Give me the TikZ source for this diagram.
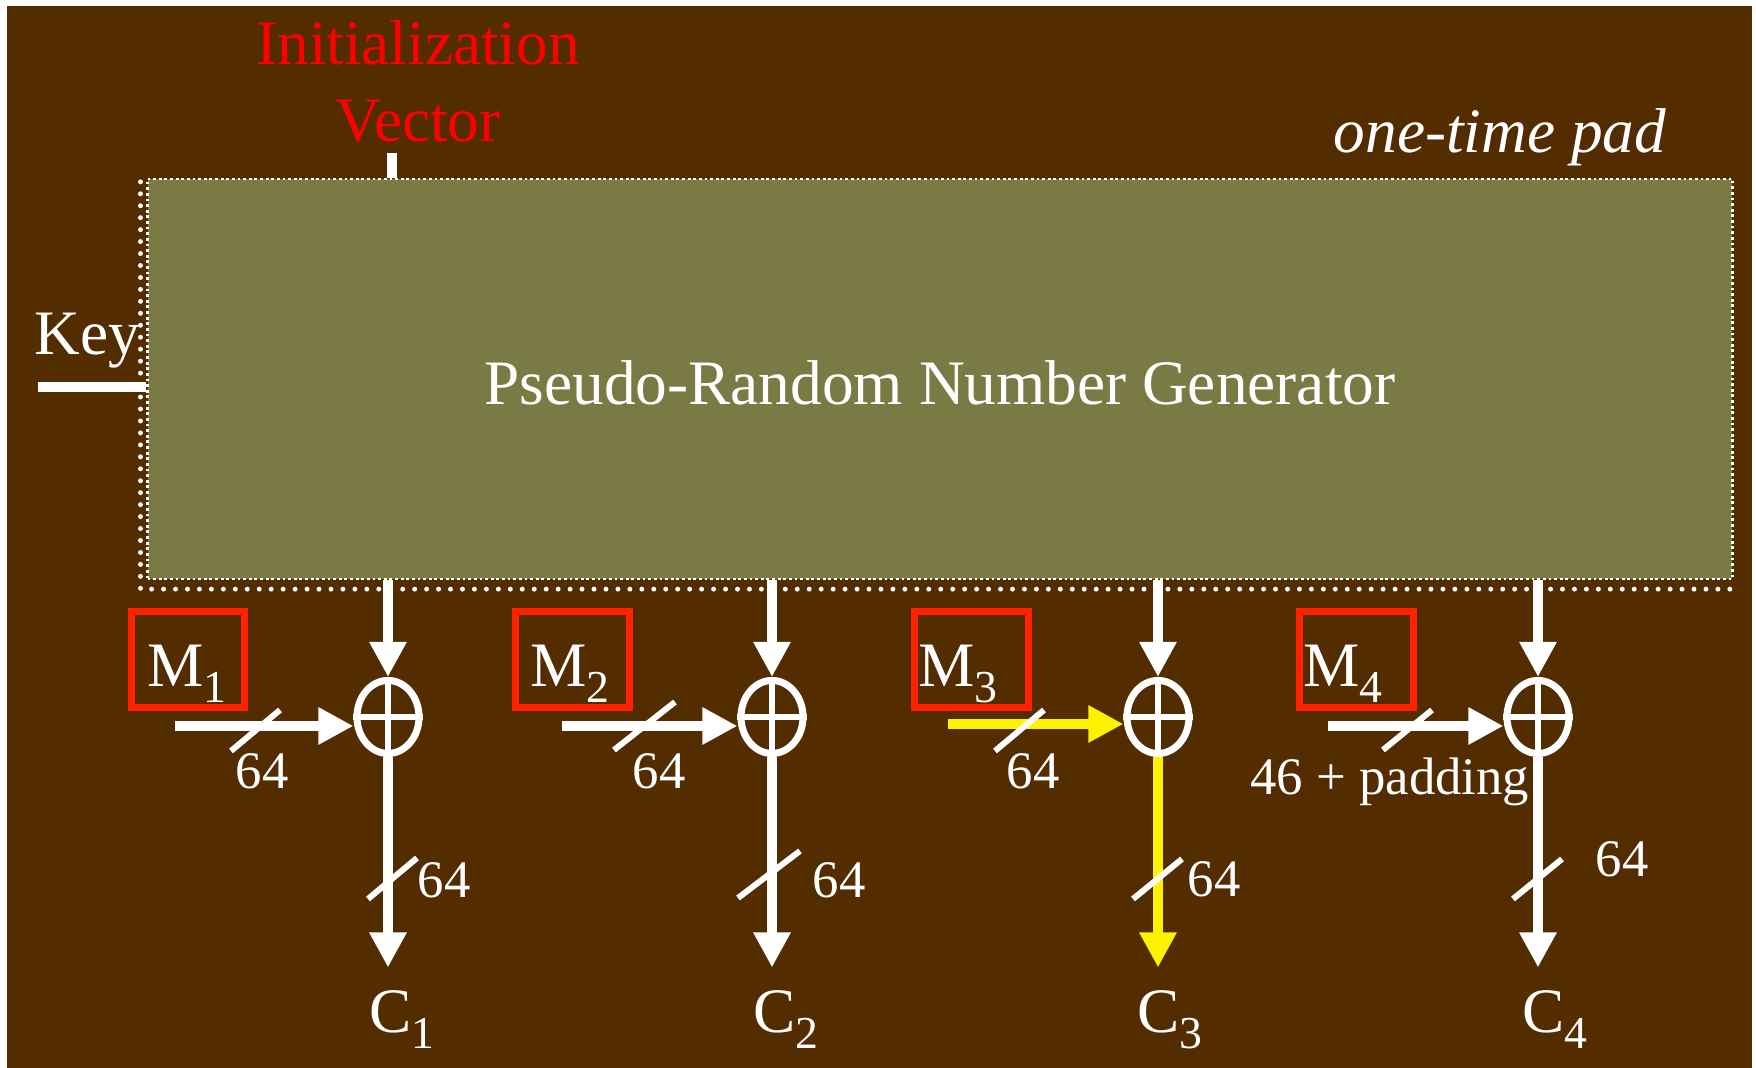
\documentclass[tikz,border=0pt]{standalone}
\usepackage{fontspec}
\setmainfont{Liberation Serif}
\usetikzlibrary{arrows.meta,shapes.geometric}

\definecolor{bgbrown}{HTML}{532C00}
\definecolor{prngolive}{HTML}{7A7A44}
\definecolor{boxred}{HTML}{FF2200}

\newcommand{\idx}[1]{\raisebox{-4.5pt}{\fontsize{13}{13}\selectfont #1}}

\begin{document}
\begin{tikzpicture}[x=0.01cm, y=-0.01cm,
    wline/.style={white, line width=3.1pt},
    warrow/.style={wline, -{Triangle[length=10pt,width=10pt]}},
    yarrow/.style={warrow, yellow},
    xorop/.style={ellipse, draw=white, line width=2pt, inner sep=0pt,
        minimum width=0.62cm, minimum height=0.73cm},
    plusln/.style={white, line width=1.7pt},
    mbox/.style={draw=boxred, line width=2pt, inner sep=0pt,
        minimum width=1.13cm, minimum height=0.96cm},
    lbl/.style={text=white, inner sep=0pt, font=\fontsize{18}{22}\selectfont},
    num/.style={text=white, inner sep=0pt, font=\fontsize{15}{18}\selectfont},
    tick/.style={white, line width=1.7pt}]

    % Background
    \useasboundingbox (0,0) rectangle (1756,1068);
    \fill[white] (0,0) rectangle (1756,1068);
    \fill[bgbrown] (7,6) rectangle (1752,1068);

    % Generator box
    \node[fill=prngolive, draw=white, line width=0.6pt,
        dash pattern=on 0.8pt off 0.8pt,
        minimum width=15.84cm, minimum height=4cm,
        text height=0.52cm, text depth=0pt,
        lbl] (prng) at (940,379) {Pseudo-Random Number Generator};
    \draw[white, line width=1.4pt, line cap=round, dash pattern=on 0pt off 3.4pt]
        ([shift={(-6,4)}]prng.north west) |- ([shift={(-1,9)}]prng.south east);

    % Inputs of the generator
    \node[lbl, anchor=base west] (key) at (34,355) {Key};
    \coordinate (keyin) at (38,387);
    \draw[wline] (keyin) -- (keyin -| prng.west);

    \node[lbl, text=red, align=center, anchor=base] (iv) at (418,142)
        {Initialization\\Vector};
    \coordinate (ivin) at (392,153);
    \draw[wline] (ivin) -- (ivin |- prng.north);

    \node[lbl, font=\fontsize{18}{22}\itshape, anchor=base] (otp) at (1500,153)
        {one-time pad};

    % Message blocks
    \node[mbox] (m1box) at (188,659.5) {};
    \node[mbox] (m2box) at (572.5,659.5) {};
    \node[mbox] (m3box) at (971.5,659.5) {};
    \node[mbox] (m4box) at (1356.5,659.5) {};

    \node[lbl, anchor=base west] (m1) at (147,687) {M\idx{1}};
    \node[lbl, anchor=base west] (m2) at (530,687) {M\idx{2}};
    \node[lbl, anchor=base west] (m3) at (918,687) {M\idx{3}};
    \node[lbl, anchor=base west] (m4) at (1303,687) {M\idx{4}};

    % XOR
    \node[xorop] (x1) at (388,717) {};
    \node[xorop] (x2) at (772,717) {};
    \node[xorop] (x3) at (1158,717) {};
    \node[xorop] (x4) at (1538,717) {};
    \draw[plusln] (x1.north) -- (x1.south) (x1.west) -- (x1.east);
    \draw[plusln] (x2.north) -- (x2.south) (x2.west) -- (x2.east);
    \draw[plusln] (x3.north) -- (x3.south) (x3.west) -- (x3.east);
    \draw[plusln] (x4.north) -- (x4.south) (x4.west) -- (x4.east);

    % Ciphertext blocks
    \node[lbl, anchor=base west] (c1) at (369,1033) {C\idx{1}};
    \node[lbl, anchor=base west] (c2) at (753,1033) {C\idx{2}};
    \node[lbl, anchor=base west] (c3) at (1137,1033) {C\idx{3}};
    \node[lbl, anchor=base west] (c4) at (1522,1033) {C\idx{4}};

    % Pad into XOR
    \draw[warrow] (prng.south -| x1) -- (x1.north);
    \draw[warrow] (prng.south -| x2) -- (x2.north);
    \draw[warrow] (prng.south -| x3) -- (x3.north);
    \draw[warrow] (prng.south -| x4) -- (x4.north);

    % Message into XOR
    \coordinate (in1) at (175,726);
    \coordinate (in2) at (562,726);
    \coordinate (in3) at (948,724);
    \coordinate (in4) at (1328,726);
    \draw[warrow] (in1) -- (in1 -| x1.west);
    \draw[warrow] (in2) -- (in2 -| x2.west);
    \draw[yarrow] (in3) -- (in3 -| x3.west);
    \draw[warrow] (in4) -- (in4 -| x4.west);

    % XOR out
    \draw[warrow, shorten >=6.5pt] (x1.south) -- (x1.south |- c1.north);
    \draw[warrow, shorten >=6.5pt] (x2.south) -- (x2.south |- c2.north);
    \draw[yarrow, shorten >=6.5pt] (x3.south) -- (x3.south |- c3.north);
    \draw[warrow, shorten >=6.5pt] (x4.south) -- (x4.south |- c4.north);

    % Bus widths
    \draw[tick] (231,751) -- (280,710);
    \draw[tick] (614,750) -- (675,702);
    \draw[tick] (995,751) -- (1044,710);
    \draw[tick] (1383,750) -- (1432,710);
    \draw[tick] (368,899) -- (417,858);
    \draw[tick] (738,898) -- (800,851);
    \draw[tick] (1133,899) -- (1182,859);
    \draw[tick] (1513,899) -- (1562,859);

    \node[num, anchor=base west] (w1) at (235,789) {64};
    \node[num, anchor=base west] (w2) at (632,789) {64};
    \node[num, anchor=base west] (w3) at (1006,789) {64};
    \node[num, anchor=base east] (w4) at (1530,795) {46 + padding};
    \node[num, anchor=base west] (o1) at (417,898) {64};
    \node[num, anchor=base west] (o2) at (812,898) {64};
    \node[num, anchor=base west] (o3) at (1187,897) {64};
    \node[num, anchor=base west] (o4) at (1595,877) {64};

\end{tikzpicture}
\end{document}
